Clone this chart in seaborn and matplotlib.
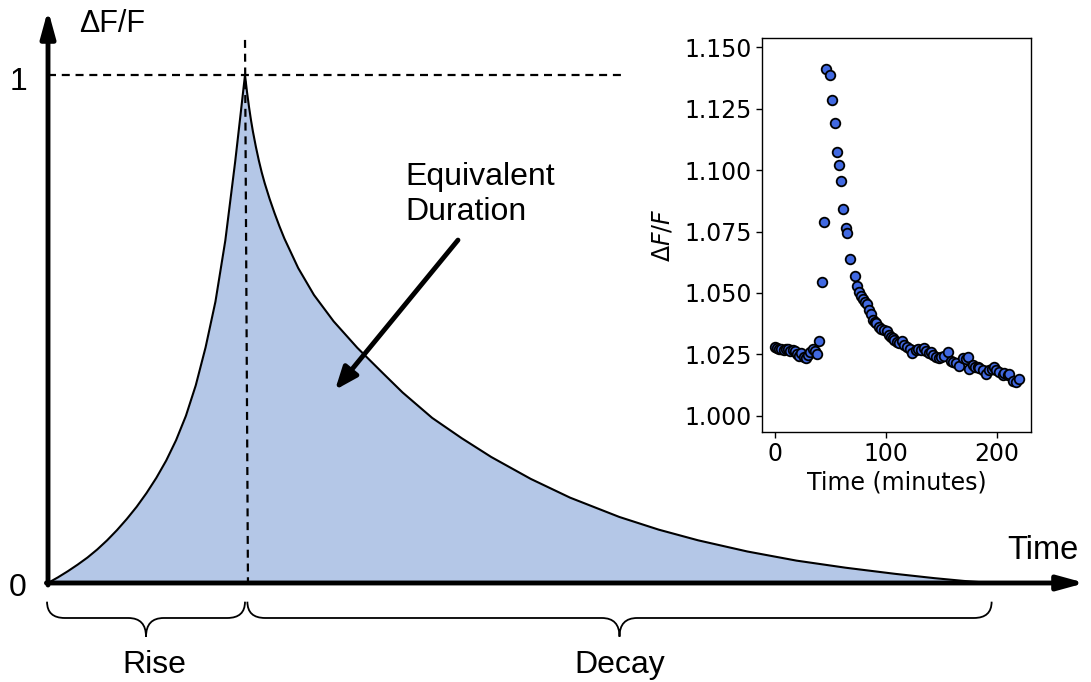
import matplotlib
matplotlib.use("Agg")
import matplotlib.pyplot as plt
import seaborn as sns
import pandas as pd
from matplotlib.path import Path
from matplotlib.patches import PathPatch

# ---------------- schematic curve (normalised time, dF/F) ----------------
rise_t = [0.0, 0.05, 0.10, 0.15, 0.20, 0.25, 0.30, 0.35, 0.40, 0.45, 0.50, 0.55, 0.60,
          0.65, 0.70, 0.75, 0.80, 0.85, 0.90, 0.95, 0.975, 1.0]
rise_y = [0.0, 0.011, 0.023, 0.036, 0.050, 0.066, 0.084, 0.104, 0.126, 0.150, 0.177, 0.207,
          0.241, 0.281, 0.329, 0.389, 0.464, 0.554, 0.674, 0.829, 0.914, 1.0]
decay_t = [1.0, 1.01, 1.02, 1.03, 1.04, 1.055, 1.07, 1.085, 1.10, 1.125, 1.15, 1.175, 1.20,
           1.27, 1.35, 1.45, 1.57, 1.70, 1.80, 1.95, 2.10, 2.25, 2.45, 2.65, 2.90, 3.10,
           3.30, 3.55, 3.80, 4.05, 4.30, 4.50, 4.65, 4.79]
decay_y = [1.0, 0.967, 0.938, 0.912, 0.889, 0.859, 0.832, 0.808, 0.787, 0.756, 0.728, 0.702,
           0.678, 0.620, 0.567, 0.515, 0.463, 0.413, 0.375, 0.325, 0.285, 0.248, 0.205,
           0.168, 0.130, 0.105, 0.084, 0.062, 0.044, 0.030, 0.018, 0.0095, 0.004, 0.0]
peak_t = 1.0
end_t = 4.79
ref_line_end = 2.914

# ---------------- inset data ----------------
time_min = [0, 2, 4, 6, 8, 10, 12, 14, 16, 18, 20, 22, 24, 26, 28, 30, 32, 34, 36, 38, 40,
            42.2, 44.2, 46.1, 49.8, 51.9, 54.0, 56.4, 57.9, 60.0, 61.8, 63.9, 65.4, 67.8,
            72.3, 74.4, 75.8, 77.3, 79.5, 81.5, 83.4, 85.0, 86.4, 88.8,
            90.5, 91.5, 93.9, 96.0, 98.4, 101.4, 103.0, 104.4, 106.0, 107.4,
            110.0, 112.0, 114.3, 116.5, 119.4, 121.5, 123.9, 126.9, 129.0, 131.5,
            134.4, 136.5, 138.9, 140.4, 142.5, 144.9, 147.9, 149.4, 152.0, 155.4,
            158.4, 160.0, 163.0, 165.9, 168.9, 171.9, 173.4, 174.9, 177.9, 180.0,
            182.4, 183.9, 186.9, 189.9, 192.9, 195.0, 197.4, 198.9, 201.9, 204.9,
            206.4, 209.4, 210.9, 213.9, 216.9, 219.9]
dff = [1.0280, 1.0277, 1.0272, 1.0270, 1.0268, 1.0273, 1.0271, 1.0262, 1.0268, 1.0262, 1.0250,
       1.0243, 1.0257, 1.0240, 1.0236, 1.0248, 1.0260, 1.0270, 1.0265, 1.0251, 1.0305,
       1.0546, 1.0790, 1.1413, 1.1387, 1.1285, 1.1193, 1.1075, 1.1021, 1.0957, 1.0844, 1.0763,
       1.0743, 1.0637,
       1.0569, 1.0528, 1.0505, 1.0487, 1.0474, 1.0462, 1.0455, 1.0430, 1.0414, 1.0390,
       1.0382, 1.0376, 1.0360, 1.0352, 1.0349, 1.0346, 1.0330, 1.0322, 1.0315, 1.0308,
       1.0300, 1.0295, 1.0305, 1.0290, 1.0279, 1.0272, 1.0254, 1.0268, 1.0272, 1.0268,
       1.0275, 1.0265, 1.0254, 1.0260, 1.0248, 1.0240, 1.0234, 1.0240, 1.0245, 1.0261,
       1.0224, 1.0220, 1.0215, 1.0204, 1.0236, 1.0232, 1.0238, 1.0190, 1.0206, 1.0198,
       1.0200, 1.0193, 1.0186, 1.0170, 1.0186, 1.0190, 1.0200, 1.0186, 1.0180, 1.0166,
       1.0173, 1.0166, 1.0170, 1.0140, 1.0138, 1.0150]
inset_xticks = [0, 100, 200]
inset_yticks = [1.000, 1.025, 1.050, 1.075, 1.100, 1.125, 1.150]

sns.set_style("white")
plt.rcParams["font.family"] = ["DejaVu Sans"]
for k in ["text.color", "axes.labelcolor", "xtick.color", "ytick.color"]:
    plt.rcParams[k] = "black"
SF = ["Liberation Sans", "DejaVu Sans"]

fig = plt.figure(figsize=(10.91, 6.82), dpi=100)
ax = fig.add_axes([0, 0, 1, 1])

curve = pd.DataFrame({"t": rise_t + decay_t[1:], "y": rise_y + decay_y[1:]})
ax.fill_between(curve["t"], curve["y"], 0, color="#B4C7E7", lw=0, zorder=1)
sns.lineplot(data=curve, x="t", y="y", color="black", lw=1.5, ax=ax, zorder=3, sort=False)

ax.set_xlim(-0.2437, 5.2944)
ax.set_ylim(-0.1949, 1.1476)
ax.axis("off")

# dashed reference lines
ax.plot([0, ref_line_end], [1, 1], color="black", lw=1.6, ls=(0, (3.6, 2.6)), zorder=4)
ax.plot([peak_t, peak_t + 0.015], [1.069, 0], color="black", lw=1.6, ls=(0, (3.6, 2.6)), zorder=4)

# axes arrows
ap = dict(arrowstyle="-|>,head_length=0.8,head_width=0.22", lw=3.5, color="black",
          shrinkA=0, shrinkB=0, mutation_scale=20)
ax.annotate("", xy=(0, 1.128), xytext=(0, -0.004), arrowprops=ap, zorder=5)
ax.annotate("", xy=(5.264, 0), xytext=(-0.008, 0), arrowprops=ap, zorder=5)

# equivalent duration arrow
ap2 = dict(arrowstyle="-|>,head_length=0.75,head_width=0.3", lw=3.5, color="black",
           shrinkA=0, shrinkB=0, mutation_scale=18)
ax.annotate("", xy=(1.457, 0.380), xytext=(2.081, 0.675), arrowprops=ap2, zorder=5)
ax.text(1.812, 0.765, "Equivalent\nDuration", ha="left", va="center", fontsize=23,
        family=SF, linespacing=1.2)

# text labels
ax.text(-0.152, -0.01, "0", ha="center", va="center", fontsize=23, family=SF)
ax.text(-0.152, 0.986, "1", ha="center", va="center", fontsize=23, family=SF)
ax.text(0.325, 1.10, "ΔF/F", ha="center", va="center", fontsize=22, family=SF)
ax.text(5.05, 0.063, "Time", ha="center", va="center", fontsize=23.5, family=SF)


def brace(x0, x1, y_top=-0.0368, y_mid=-0.0689, y_tip=-0.1057, d=0.09):
    xc = (x0 + x1) / 2
    verts = [(x0, y_top), (x0, y_mid), (x0 + d, y_mid),
             (xc - d, y_mid), (xc, y_mid), (xc, y_tip),
             (xc, y_mid), (xc + d, y_mid),
             (x1 - d, y_mid), (x1, y_mid), (x1, y_top)]
    codes = [Path.MOVETO, Path.CURVE3, Path.CURVE3,
             Path.LINETO, Path.CURVE3, Path.CURVE3,
             Path.CURVE3, Path.CURVE3,
             Path.LINETO, Path.CURVE3, Path.CURVE3]
    ax.add_patch(PathPatch(Path(verts, codes), fc="none", ec="black", lw=1.3))
    return xc


xr = brace(-0.005, peak_t)
xd = brace(peak_t + 0.012, end_t)
ax.text(xr + 0.04, -0.161, "Rise", ha="center", va="center", fontsize=23, family=SF)
ax.text(xd, -0.161, "Decay", ha="center", va="center", fontsize=23, family=SF)

# ---------------- inset ----------------
axi = fig.add_axes([0.6984, 0.3666, 0.2466, 0.5772])
axi.set_facecolor("white")
ins = pd.DataFrame({"Time (minutes)": time_min, "dff": dff})
sns.scatterplot(data=ins, x="Time (minutes)", y="dff", ax=axi, color="#4169E1",
                edgecolor="black", linewidth=1.3, s=48, zorder=3)
axi.set_xlim(-11.5, 230.5)
axi.set_ylim(0.9934, 1.1537)
axi.set_xticks(inset_xticks)
axi.set_yticks(inset_yticks)
axi.set_yticklabels([f"{v:.3f}" for v in inset_yticks])
axi.tick_params(labelsize=17, length=4, width=1, left=True, bottom=True, color="black",
                labelcolor="black")
axi.set_xlabel("Time (minutes)", fontsize=17, labelpad=3)
axi.set_ylabel("$\\Delta F/F$", fontsize=17, labelpad=7)
for sp in axi.spines.values():
    sp.set_visible(True)
    sp.set_color("black")
    sp.set_linewidth(1.0)

fig.savefig("out.png", dpi=100)
